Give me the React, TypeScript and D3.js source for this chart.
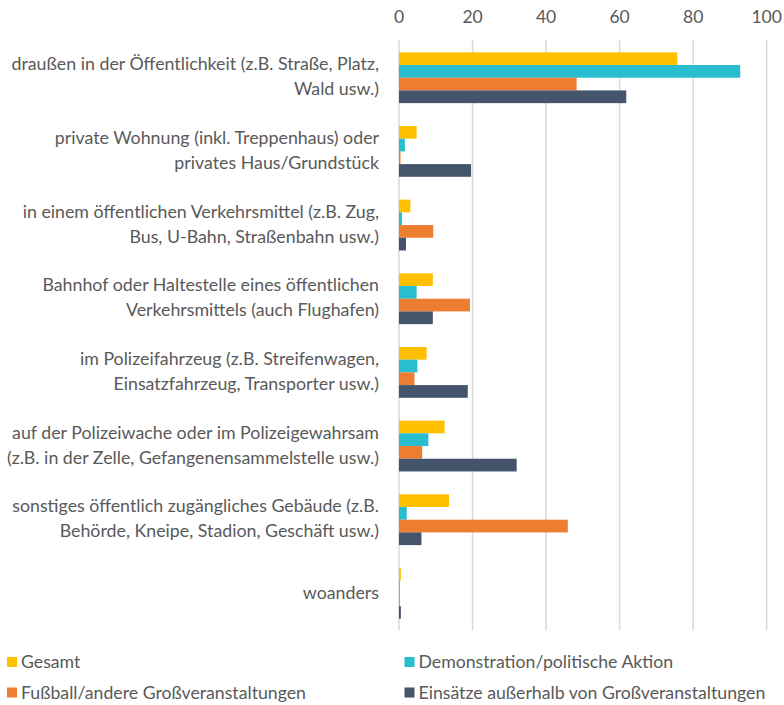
import React from "react";
import * as d3 from "d3";

const categories: string[][] = [
  ["draußen in der Öffentlichkeit (z.B. Straße, Platz,", "Wald usw.)"],
  ["private Wohnung (inkl. Treppenhaus) oder", "privates Haus/Grundstück"],
  ["in einem öffentlichen Verkehrsmittel (z.B. Zug,", "Bus, U-Bahn, Straßenbahn usw.)"],
  ["Bahnhof oder Haltestelle eines öffentlichen", "Verkehrsmittels (auch Flughafen)"],
  ["im Polizeifahrzeug (z.B. Streifenwagen,", "Einsatzfahrzeug, Transporter usw.)"],
  ["auf der Polizeiwache oder im Polizeigewahrsam", "(z.B. in der Zelle, Gefangenensammelstelle usw.)"],
  ["sonstiges öffentlich zugängliches Gebäude (z.B.", "Behörde, Kneipe, Stadion, Geschäft usw.)"],
  ["woanders"],
];

const seriesNames = [
  "Gesamt",
  "Demonstration/politische Aktion",
  "Fußball/andere Großveranstaltungen",
  "Einsätze außerhalb von Großveranstaltungen",
];

const gesamt = [75.7, 4.8, 3.1, 9.2, 7.5, 12.4, 13.6, 0.5];
const demonstration = [92.8, 1.6, 0.8, 4.8, 5.0, 8.0, 2.1, 0.2];
const fussball = [48.3, 0.4, 9.3, 19.3, 4.2, 6.3, 45.9, 0.2];
const einsaetze = [61.8, 19.6, 1.9, 9.2, 18.7, 32.0, 6.1, 0.5];

const ticks = [0, 20, 40, 60, 80, 100];

const colors = ["#FFC000", "#28BECF", "#ED7D31", "#44546A"];

const W = 784;
const H = 705;
const FONT = "Lato, 'Open Sans', sans-serif";
const TEXT = "#595959";

export default function App() {
  const series = [gesamt, demonstration, fussball, einsaetze];
  const x = d3.scaleLinear().domain([0, 100]).range([399, 766.7]);
  const idx = categories.map((_, i) => String(i));
  const y = d3.scaleBand<string>().domain(idx).range([40.9, 630.2]).paddingInner(0).paddingOuter(0);
  const inner = d3
    .scaleBand<string>()
    .domain(seriesNames)
    .range([11.43, y.bandwidth() - 11.43])
    .padding(0);

  return (
    <svg
      width={W}
      height={H}
      style={{ position: "absolute", left: 0, top: 0, background: "#fff" }}
      fontFamily={FONT}
    >
      <rect width={W} height={H} fill="#fff" />
      {ticks.map((t) => (
        <g key={t}>
          <line x1={x(t)} x2={x(t)} y1={40} y2={630.5} stroke="#D9D9D9" strokeWidth={1.5} />
          <text x={x(t)} y={17} dy="0.35em" textAnchor="middle" fontSize={17.5} fill={TEXT}>
            {t}
          </text>
        </g>
      ))}
      {categories.map((lines, i) => {
        const cy = (y(String(i)) as number) + y.bandwidth() / 2;
        const lh = 25;
        const start = cy - ((lines.length - 1) * lh) / 2 - 1;
        return (
          <text key={i} textAnchor="end" fontSize={17.8} fill={TEXT}>
            {lines.map((l, j) => (
              <tspan key={j} x={379} y={start + j * lh} dy="0.35em">
                {l}
              </tspan>
            ))}
          </text>
        );
      })}
      {categories.map((_, i) =>
        series.map((s, k) => (
          <rect
            key={`${i}-${k}`}
            x={x(0)}
            y={(y(String(i)) as number) + (inner(seriesNames[k]) as number)}
            width={x(s[i]) - x(0)}
            height={inner.bandwidth()}
            fill={colors[k]}
          />
        ))
      )}
      {seriesNames.map((n, k) => {
        const lx = k % 2 === 0 ? 7 : 404.5;
        const ly = k < 2 ? 662 : 692.5;
        return (
          <g key={n}>
            <rect x={lx} y={ly - 5} width={10} height={10} fill={colors[k]} />
            <text x={lx + 14} y={ly} dy="0.35em" fontSize={17.7} fill={TEXT}>
              {n}
            </text>
          </g>
        );
      })}
    </svg>
  );
}
